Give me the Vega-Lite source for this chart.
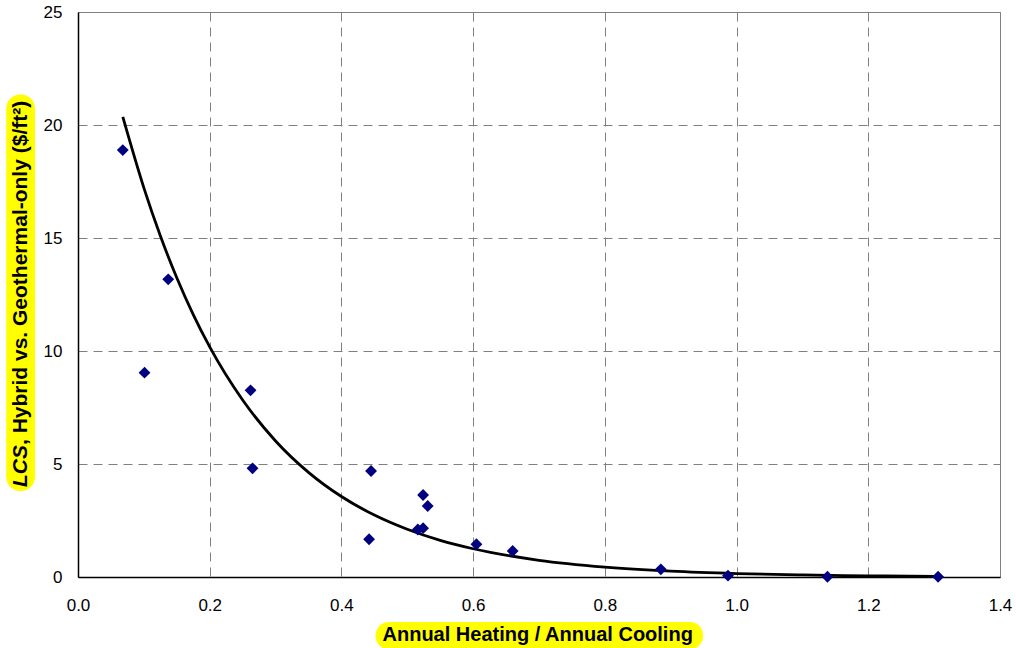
{
  "$schema": "https://vega.github.io/schema/vega-lite/v6.json",
  "width": 922,
  "height": 565,
  "autosize": {"type": "none"},
  "padding": {"left": 78, "top": 12, "right": 16, "bottom": 71},
  "background": "white",
  "config": {
    "view": {"stroke": "#808080", "strokeWidth": 1},
    "font": "Liberation Sans",
    "axis": {
      "labelFont": "Liberation Sans",
      "labelFontSize": 17,
      "labelColor": "black",
      "labelFlush": false,
      "ticks": false,
      "domainColor": "black",
      "domainWidth": 1.5,
      "gridColor": "#808080",
      "gridDash": [9, 6],
      "gridWidth": 1,
      "gridOpacity": 1
    }
  },
  "datasets": {
    "points": [
      {"ratio": 0.068, "lcs": 18.89},
      {"ratio": 0.101, "lcs": 9.04},
      {"ratio": 0.137, "lcs": 13.17},
      {"ratio": 0.262, "lcs": 8.26},
      {"ratio": 0.265, "lcs": 4.81},
      {"ratio": 0.442, "lcs": 1.67},
      {"ratio": 0.445, "lcs": 4.69},
      {"ratio": 0.516, "lcs": 2.10},
      {"ratio": 0.524, "lcs": 2.16},
      {"ratio": 0.524, "lcs": 3.63},
      {"ratio": 0.531, "lcs": 3.14},
      {"ratio": 0.605, "lcs": 1.45},
      {"ratio": 0.660, "lcs": 1.15},
      {"ratio": 0.885, "lcs": 0.34},
      {"ratio": 0.987, "lcs": 0.06},
      {"ratio": 1.138, "lcs": 0.01},
      {"ratio": 1.306, "lcs": 0.01}
    ],
    "curve": [
      {"ratio": 0.068, "lcs": 20.36},
      {"ratio": 0.1, "lcs": 17.22},
      {"ratio": 0.125, "lcs": 15.10},
      {"ratio": 0.15, "lcs": 13.24},
      {"ratio": 0.175, "lcs": 11.61},
      {"ratio": 0.2, "lcs": 10.18},
      {"ratio": 0.25, "lcs": 7.83},
      {"ratio": 0.3, "lcs": 6.02},
      {"ratio": 0.35, "lcs": 4.63},
      {"ratio": 0.4, "lcs": 3.56},
      {"ratio": 0.45, "lcs": 2.74},
      {"ratio": 0.5, "lcs": 2.11},
      {"ratio": 0.55, "lcs": 1.62},
      {"ratio": 0.6, "lcs": 1.25},
      {"ratio": 0.7, "lcs": 0.74},
      {"ratio": 0.8, "lcs": 0.44},
      {"ratio": 0.9, "lcs": 0.26},
      {"ratio": 1.0, "lcs": 0.153},
      {"ratio": 1.1, "lcs": 0.090},
      {"ratio": 1.2, "lcs": 0.054},
      {"ratio": 1.306, "lcs": 0.031}
    ],
    "xtitle": [{"label": "Annual Heating / Annual Cooling"}],
    "ytitle": [{"italic": "LCS", "rest": ", Hybrid vs. Geothermal-only ($/ft²)"}]
  },
  "layer": [
    {
      "data": {"name": "xtitle"},
      "mark": {"type": "rect", "fill": "#ffff00", "cornerRadius": 13},
      "encoding": {
        "x": {"datum": 0.452, "type": "quantitative", "scale": {"domain": [0, 1.4], "nice": false, "zero": false}, "axis": {"title": null, "values": [0, 0.2, 0.4, 0.6, 0.8, 1.0, 1.2, 1.4], "format": ".1f", "labelPadding": 20, "grid": true}},
        "x2": {"datum": 0.949},
        "y": {"datum": -1.99, "type": "quantitative", "scale": {"domain": [0, 25], "nice": false, "zero": false}, "axis": {"title": null, "values": [0, 5, 10, 15, 20, 25], "labelPadding": 16, "grid": true}},
        "y2": {"datum": -3.2}
      }
    },
    {
      "data": {"name": "ytitle"},
      "mark": {"type": "rect", "fill": "#ffff00", "cornerRadius": 14},
      "encoding": {
        "x": {"datum": -0.109, "type": "quantitative", "scale": {"domain": [0, 1.4], "nice": false, "zero": false}, "axis": {"title": null, "values": [0, 0.2, 0.4, 0.6, 0.8, 1.0, 1.2, 1.4], "format": ".1f", "labelPadding": 20, "grid": true}},
        "x2": {"datum": -0.0653},
        "y": {"datum": 21.35, "type": "quantitative", "scale": {"domain": [0, 25], "nice": false, "zero": false}, "axis": {"title": null, "values": [0, 5, 10, 15, 20, 25], "labelPadding": 16, "grid": true}},
        "y2": {"datum": 3.81}
      }
    },
    {
      "data": {"name": "xtitle"},
      "mark": {"type": "text", "fontSize": 20, "fontWeight": "bold", "color": "black", "align": "center", "baseline": "middle"},
      "encoding": {
        "x": {"datum": 0.698, "type": "quantitative", "scale": {"domain": [0, 1.4], "nice": false, "zero": false}, "axis": {"title": null, "values": [0, 0.2, 0.4, 0.6, 0.8, 1.0, 1.2, 1.4], "format": ".1f", "labelPadding": 20, "grid": true}},
        "y": {"datum": -2.58, "type": "quantitative", "scale": {"domain": [0, 25], "nice": false, "zero": false}, "axis": {"title": null, "values": [0, 5, 10, 15, 20, 25], "labelPadding": 16, "grid": true}},
        "text": {"field": "label"}
      }
    },
    {
      "data": {"name": "ytitle"},
      "mark": {"type": "text", "fontSize": 21, "fontWeight": "bold", "fontStyle": "italic", "color": "black", "align": "left", "baseline": "middle", "angle": 270},
      "encoding": {
        "x": {"datum": -0.0873, "type": "quantitative", "scale": {"domain": [0, 1.4], "nice": false, "zero": false}, "axis": {"title": null, "values": [0, 0.2, 0.4, 0.6, 0.8, 1.0, 1.2, 1.4], "format": ".1f", "labelPadding": 20, "grid": true}},
        "y": {"datum": 3.98, "type": "quantitative", "scale": {"domain": [0, 25], "nice": false, "zero": false}, "axis": {"title": null, "values": [0, 5, 10, 15, 20, 25], "labelPadding": 16, "grid": true}},
        "text": {"field": "italic"}
      }
    },
    {
      "data": {"name": "ytitle"},
      "mark": {"type": "text", "fontSize": 21, "fontWeight": "bold", "color": "black", "align": "left", "baseline": "middle", "angle": 270},
      "encoding": {
        "x": {"datum": -0.0873, "type": "quantitative", "scale": {"domain": [0, 1.4], "nice": false, "zero": false}, "axis": {"title": null, "values": [0, 0.2, 0.4, 0.6, 0.8, 1.0, 1.2, 1.4], "format": ".1f", "labelPadding": 20, "grid": true}},
        "y": {"datum": 5.84, "type": "quantitative", "scale": {"domain": [0, 25], "nice": false, "zero": false}, "axis": {"title": null, "values": [0, 5, 10, 15, 20, 25], "labelPadding": 16, "grid": true}},
        "text": {"field": "rest"}
      }
    },
    {
      "data": {"name": "curve"},
      "mark": {"type": "line", "color": "black", "strokeWidth": 2.8, "interpolate": "monotone"},
      "encoding": {
        "x": {"field": "ratio", "type": "quantitative", "scale": {"domain": [0, 1.4], "nice": false, "zero": false}, "axis": {"title": null, "values": [0, 0.2, 0.4, 0.6, 0.8, 1.0, 1.2, 1.4], "format": ".1f", "labelPadding": 20, "grid": true}},
        "y": {"field": "lcs", "type": "quantitative", "scale": {"domain": [0, 25], "nice": false, "zero": false}, "axis": {"title": null, "values": [0, 5, 10, 15, 20, 25], "labelPadding": 16, "grid": true}}
      }
    },
    {
      "data": {"name": "points"},
      "mark": {"type": "point", "shape": "diamond", "filled": true, "color": "#000080", "size": 140, "opacity": 1},
      "encoding": {
        "x": {"field": "ratio", "type": "quantitative", "scale": {"domain": [0, 1.4], "nice": false, "zero": false}, "axis": {"title": null, "values": [0, 0.2, 0.4, 0.6, 0.8, 1.0, 1.2, 1.4], "format": ".1f", "labelPadding": 20, "grid": true}},
        "y": {"field": "lcs", "type": "quantitative", "scale": {"domain": [0, 25], "nice": false, "zero": false}, "axis": {"title": null, "values": [0, 5, 10, 15, 20, 25], "labelPadding": 16, "grid": true}}
      }
    }
  ]
}
